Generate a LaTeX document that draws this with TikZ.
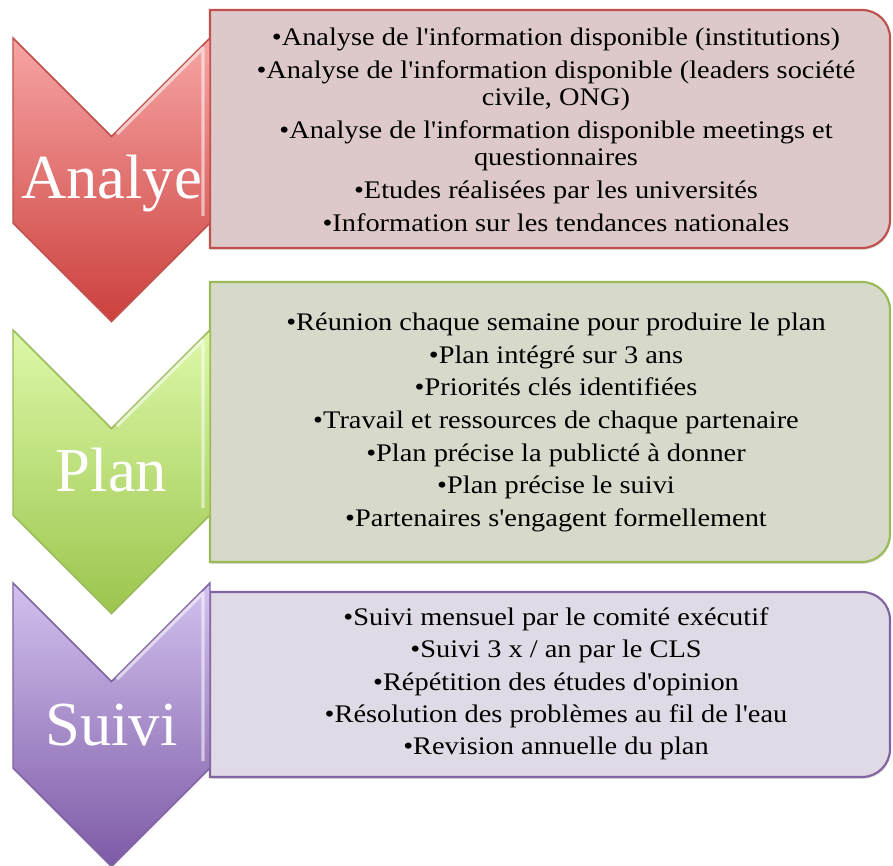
\documentclass[tikz,border=0pt]{standalone}
\usepackage{fontspec}
\usetikzlibrary{shadows}
\newfontfamily\BoxFont[FakeStretch=1.12]{Liberation Serif}
\newfontfamily\TagFont{Liberation Serif}
\definecolor{lineRed}{HTML}{C0504D}
\definecolor{fillRed}{HTML}{DDC9CA}
\definecolor{topRed}{HTML}{F6A5A4}
\definecolor{botRed}{HTML}{CC403D}
\definecolor{lineGreen}{HTML}{9BBB59}
\definecolor{fillGreen}{HTML}{D7DACA}
\definecolor{topGreen}{HTML}{DDF8A8}
\definecolor{botGreen}{HTML}{9CC54E}
\definecolor{lineViolet}{HTML}{8064A2}
\definecolor{fillViolet}{HTML}{DFDAE5}
\definecolor{topViolet}{HTML}{D2C2EF}
\definecolor{botViolet}{HTML}{7D5AA6}
\newcommand{\Body}{\BoxFont\fontsize{19}{20.25}\selectfont\lineskiplimit=-20pt}
\newcommand{\Tag}{\TagFont\fontsize{47}{50}\selectfont}
% box with square left side and rounded right corners, #1 top, #2 bottom, #3 colour
\newcommand{\InfoBox}[3]{%
  \draw[infobox, draw=line#3, fill=fill#3] (210,#1) -- (862,#1)
    .. controls (877.5,#1) and (890,#1+12.5) .. (890,#1+28) -- (890,#2-28)
    .. controls (890,#2-12.5) and (877.5,#2) .. (862,#2) -- (210,#2) -- cycle;}
\tikzset{
  infobox/.style={line width=1.6, drop shadow={shadow xshift=0.6pt, shadow yshift=-1.4pt, opacity=0.25}},
  chev/.style={line width=1.1},
  shine/.style={white, opacity=0.55, line width=2.4, line join=round},
  tag/.style={anchor=base, text=white, font=\Tag, inner sep=0},
  items/.style={align=center, font=\Body, inner sep=0},
}
\begin{document}
\begin{tikzpicture}[x=0.75pt,y=-0.75pt]
  \path[use as bounding box, fill=white] (0,0) rectangle (893,866);
  % text boxes
  \InfoBox{10}{248}{Red}
  \InfoBox{282}{562}{Green}
  \InfoBox{592}{777}{Violet}
  % chevrons
  \foreach \t/\c in {38/Red,330/Green,583/Violet}{
    \draw[chev, draw=line\c, top color=top\c, bottom color=bot\c]
      (13,\t) -- (111.5,\t+98.5) -- (210,\t) -- (210,\t+185)
      -- (111.5,\t+283.5) -- (13,\t+185) -- cycle;
    \draw[shine] (117,\t+96) -- (203,\t+10) -- (203,\t+178);
  }
  \node[tag] (analyse) at (111.5,199) {Analye};
  \node[tag] (plan) at (111.5,491) {Plan};
  \node[tag] (suivi) at (111.5,745) {Suivi};
  \node[items] (analyseitems) at (556,130) {%
    •Analyse de l'information disponible (institutions)\\[4.5pt]
    •Analyse de l'information disponible (leaders société\\civile, ONG)\\[4.5pt]
    •Analyse de l'information disponible meetings et\\questionnaires\\[4.5pt]
    •Etudes réalisées par les universités\\[4.5pt]
    •Information sur les tendances nationales};
  \node[items] (planitems) at (556,422.5) {%
    •Réunion chaque semaine pour produire le plan\\[4.2pt]
    •Plan intégré sur 3 ans\\[4.2pt]
    •Priorités clés identifiées\\[4.2pt]
    •Travail et ressources de chaque partenaire\\[4.2pt]
    •Plan précise la publicté à donner\\[4.2pt]
    •Plan précise le suivi\\[4.2pt]
    •Partenaires s'engagent formellement};
  \node[items] (suiviitems) at (556,684) {%
    •Suivi mensuel par le comité exécutif\\[4pt]
    •Suivi 3 x / an par le CLS\\[4pt]
    •Répétition des études d'opinion\\[4pt]
    •Résolution des problèmes au fil de l'eau\\[4pt]
    •Revision annuelle du plan};
\end{tikzpicture}
\end{document}
